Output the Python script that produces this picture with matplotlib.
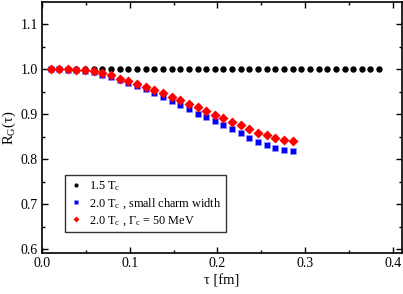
import numpy as np
import matplotlib
matplotlib.use("Agg")
from matplotlib import pyplot as plt
from matplotlib.ticker import MultipleLocator

plt.rcParams['font.family'] = ['Liberation Serif', 'DejaVu Serif']
plt.rcParams['mathtext.fontset'] = 'custom'
plt.rcParams['mathtext.rm'] = 'Liberation Serif'
plt.rcParams['mathtext.it'] = 'Liberation Serif:italic'

# time step in fm
dtau = 0.00985

# 1.5 Tc : flat at 1
n_15 = np.arange(1, 40)
r_15 = [1.0] * 39

# 2.0 Tc, small charm width
n_20 = np.arange(1, 30)
r_20_small = [1.000, 1.000, 0.999, 0.998, 0.996, 0.993, 0.988, 0.982, 0.975, 0.969,
              0.962, 0.955, 0.947, 0.938, 0.930, 0.921, 0.911, 0.901, 0.893, 0.884,
              0.875, 0.866, 0.857, 0.847, 0.838, 0.831, 0.825, 0.821, 0.818]

# 2.0 Tc, Gamma_c = 50 MeV
r_20_gamma = [1.000, 1.000, 1.000, 0.999, 0.998, 0.995, 0.991, 0.986, 0.979, 0.973,
              0.967, 0.960, 0.953, 0.946, 0.939, 0.932, 0.923, 0.916, 0.907, 0.899,
              0.891, 0.883, 0.876, 0.867, 0.859, 0.853, 0.847, 0.843, 0.841]

fig = plt.figure(figsize=(4.03, 2.94), dpi=100)
ax = fig.add_axes([0.104, 0.139, 0.893, 0.854])

ax.plot(n_15 * dtau, r_15, 'o', color='black', ms=4.6, mec='none', label=r'1.5 T$_\mathrm{c}$')
ax.plot(n_20 * dtau, r_20_small, 's', color='#0000ff', ms=4.6, mec='#9999ff', mew=0.4,
        label=r'2.0 T$_\mathrm{c}$ , small charm width')
ax.plot(n_20 * dtau, r_20_gamma, 'D', color='#ff0000', ms=4.6, mec='none',
        label=r'2.0 T$_\mathrm{c}$ , $\Gamma_\mathrm{c}$ = 50 MeV')

ax.set_xlim(0, 0.41)
ax.set_ylim(0.591, 1.149)
ax.xaxis.set_major_locator(MultipleLocator(0.1))
ax.xaxis.set_minor_locator(MultipleLocator(0.05))
ax.yaxis.set_major_locator(MultipleLocator(0.1))
ax.yaxis.set_minor_locator(MultipleLocator(0.05))
ax.xaxis.set_major_formatter(plt.FormatStrFormatter('%.1f'))
ax.yaxis.set_major_formatter(plt.FormatStrFormatter('%.1f'))
ax.tick_params(which='both', direction='in', top=True, right=True, labelsize=10, width=1)
ax.tick_params(which='major', length=4, pad=3)
ax.tick_params(which='minor', length=2.5)
for s in ax.spines.values():
    s.set_linewidth(1.2)

ax.set_xlabel('τ [fm]', fontsize=10.5, labelpad=3)
ax.set_ylabel(r'R$_\mathrm{G}$(τ)', fontsize=10.5, labelpad=2)

leg = ax.legend(loc='lower left', bbox_to_anchor=(0.065, 0.085), fontsize=8.8, markerscale=0.65,
                frameon=True, fancybox=False, edgecolor='black', handlelength=1.0,
                handletextpad=0.6, borderpad=0.35, labelspacing=0.25, borderaxespad=0)
leg.get_frame().set_linewidth(1.0)

fig.savefig('out.png', dpi=100)
